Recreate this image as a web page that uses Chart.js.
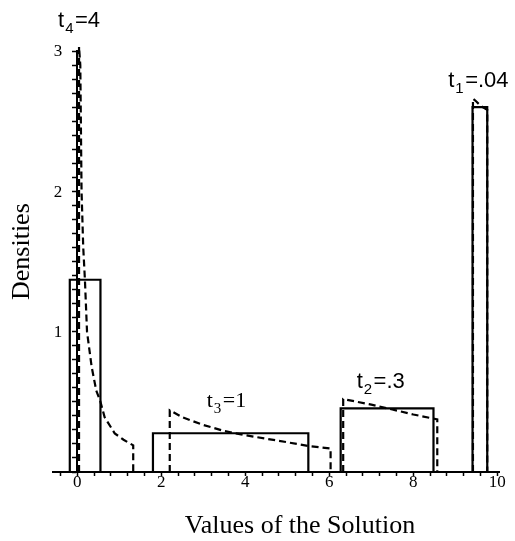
<!DOCTYPE html>
<html>
<head>
<meta charset="utf-8">
<script src="https://cdn.jsdelivr.net/npm/chart.js@4"></script>
<style>
    body { margin: 0; background: #fff; }
    #wrap { width: 515px; height: 541px; }
</style>
</head>
<body>
<div id="wrap"><canvas id="densityChart" width="515" height="541"></canvas></div>
<script>
(function() {
    // histogram bins of the simulated solution
    const binLeft = [-0.18, 1.8, 6.27, 9.41];
    const binRight = [0.55, 5.5, 8.48, 9.76];
    const binHeight = [1.37, 0.276, 0.454, 2.6];

    // density curves, one per time t
    const t4X = [0.04, 0.04, 0.07, 0.1, 0.14, 0.18, 0.23, 0.34, 0.45, 0.55, 0.65, 0.89, 1.1, 1.33, 1.33];
    const t4Y = [0, 3.03, 2.9, 2.0, 1.6, 1.37, 1.0, 0.75, 0.58, 0.5, 0.39, 0.275, 0.23, 0.19, 0];
    const t3X = [2.2, 2.2, 2.5, 3.0, 3.5, 4.0, 4.5, 5.0, 5.5, 6.03, 6.03];
    const t3Y = [0, 0.44, 0.39, 0.335, 0.292, 0.262, 0.237, 0.212, 0.185, 0.168, 0];
    const t2X = [6.33, 6.33, 7.0, 7.5, 8.0, 8.57, 8.57];
    const t2Y = [0, 0.52, 0.48, 0.445, 0.41, 0.375, 0];
    const t1X = [9.42, 9.42, 9.5, 9.6, 9.76, 9.76];
    const t1Y = [0, 2.66, 2.64, 2.61, 2.58, 0];

    // curve labels t_i = value
    const tIndex = ['4', '3', '2', '1'];
    const tValue = ['4', '1', '.3', '.04'];

    const xLabelEvery = [0, 2, 4, 6, 8, 10];
    const yLabelEvery = [1, 2, 3];

    const curves = [[t4X, t4Y], [t3X, t3Y], [t2X, t2Y], [t1X, t1Y]];

    // where each label sits, in axis units (left edge, baseline)
    const labelAt = [[-0.46, 3.17], [3.08, 0.465], [6.65, 0.597], [8.83, 2.746]];

    function points(xs, ys) {
        return xs.map((x, i) => ({x: x, y: ys[i]}));
    }

    let datasets = [];
    for (let i = 0; i < binLeft.length; i++) {
        datasets.push({
            data: [
                {x: binLeft[i], y: 0},
                {x: binLeft[i], y: binHeight[i]},
                {x: binRight[i], y: binHeight[i]},
                {x: binRight[i], y: 0},
            ],
            borderColor: '#000',
            borderWidth: 2.2,
        });
    }
    for (let [xs, ys] of curves) {
        datasets.push({
            data: points(xs, ys),
            borderColor: '#000',
            borderWidth: 2.2,
            borderDash: [7, 4],
        });
    }
    for (let ds of datasets) {
        ds.showLine = true;
        ds.pointRadius = 0;
        ds.fill = false;
        ds.tension = 0;
        ds.clip = false;
    }

    const xTicks = [];
    for (let i = -1; i <= 25; i++) {
        xTicks.push(Math.round(i * 4) / 10);
    }
    const yTicks = [];
    for (let i = 0; i <= 30; i++) {
        yTicks.push(i / 10);
    }

    const tickFont = {family: '"Liberation Serif", serif', size: 17};

    const textPlugin = {
        id: 'chartText',
        afterDatasetsDraw(chart) {
            const {ctx, scales, chartArea} = chart;
            ctx.save();
            ctx.fillStyle = '#000';

            // y labels sit left of the axis drawn at x = 0
            ctx.font = '17px "Liberation Serif"';
            ctx.textAlign = 'right';
            ctx.textBaseline = 'middle';
            const axisX = scales.x.getPixelForValue(0);
            for (let v of yLabelEvery) {
                ctx.fillText(String(v), axisX - 15, scales.y.getPixelForValue(v) + 1);
            }

            ctx.textBaseline = 'alphabetic';
            ctx.textAlign = 'left';
            tIndex.forEach((sub, i) => {
                const family = i === 1 ? '"Liberation Serif"' : '"Liberation Sans"';
                let px = scales.x.getPixelForValue(labelAt[i][0]);
                const py = scales.y.getPixelForValue(labelAt[i][1]);
                ctx.font = '22px ' + family;
                ctx.fillText('t', px, py);
                px += ctx.measureText('t').width + 1;
                ctx.font = '15px ' + family;
                ctx.fillText(sub, px, py + 6);
                px += ctx.measureText(sub).width + 1.5;
                ctx.font = '22px ' + family;
                ctx.fillText('=' + tValue[i], px, py);
            });

            // axis titles
            ctx.font = '26px "Liberation Serif"';
            ctx.textAlign = 'center';
            ctx.fillText('Values of the Solution', chartArea.left + 247, 533);

            ctx.translate(29, chartArea.top + 249);
            ctx.rotate(-Math.PI / 2);
            ctx.textAlign = 'left';
            ctx.fillText('Densities', 0, 0);
            ctx.restore();
        },
    };

    new Chart(
        document.getElementById('densityChart'),
        {
            type: 'scatter',
            data: {datasets: datasets},
            options: {
                responsive: false,
                animation: false,
                layout: {
                    padding: {left: 53, right: 16, top: 51, bottom: 0},
                },
                plugins: {
                    legend: {display: false},
                    tooltip: {enabled: false},
                },
                scales: {
                    x: {
                        type: 'linear',
                        min: -0.58,
                        max: 10.04,
                        afterBuildTicks: scale => {
                            scale.ticks = xTicks.map(v => ({value: v}));
                        },
                        afterFit: scale => {
                            scale.height = 69;
                        },
                        ticks: {
                            autoSkip: false,
                            maxRotation: 0,
                            padding: -4,
                            color: '#000',
                            font: tickFont,
                            callback: v => xLabelEvery.includes(v) ? String(v) : '',
                        },
                        grid: {
                            drawOnChartArea: false,
                            tickLength: 4,
                            tickColor: '#000',
                            tickWidth: 1.5,
                        },
                        border: {color: '#000', width: 2},
                    },
                    y: {
                        type: 'linear',
                        min: 0,
                        max: 3,
                        position: {x: 0},
                        afterBuildTicks: scale => {
                            scale.ticks = yTicks.map(v => ({value: v}));
                        },
                        ticks: {
                            display: false,
                        },
                        grid: {
                            drawOnChartArea: false,
                            tickLength: 4,
                            tickColor: '#000',
                            tickWidth: 1.5,
                        },
                        border: {color: '#000', width: 2},
                    },
                },
            },
            plugins: [textPlugin],
        },
    );
})();
</script>
</body>
</html>
